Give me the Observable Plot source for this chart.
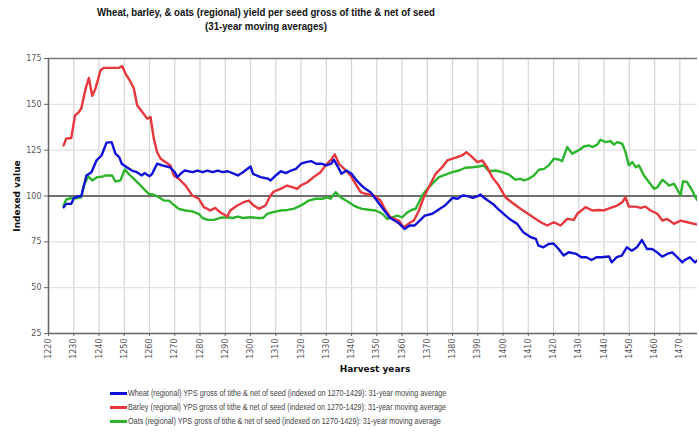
<!DOCTYPE html>
<html>
<head>
<meta charset="utf-8">
<script src="https://cdn.jsdelivr.net/npm/d3@7"></script>
<script src="https://cdn.jsdelivr.net/npm/@observablehq/plot@0.6"></script>
<style>
  html, body { margin: 0; padding: 0; background: #fff; }
  #wrap { position: relative; width: 699px; height: 432px; overflow: hidden; background: #fff; }
  #chart { position: absolute; left: 0; top: 0; }
  .title { position: absolute; left: 16px; width: 500px; text-align: center; font-family: "Liberation Sans", Arial, sans-serif; font-weight: bold; font-size: 10.5px; color: #111; line-height: 14px; transform: scaleX(0.92); transform-origin: 250px 0; }
  .axlabel { position: absolute; font-family: "DejaVu Sans", sans-serif; font-weight: bold; font-size: 9px; color: #111; white-space: nowrap; }
  #legend { position: absolute; left: 110px; top: 386px; font-family: "Liberation Sans", sans-serif; font-size: 8.5px; color: #444; }
  .row { display: flex; align-items: center; height: 14px; white-space: nowrap; }
  .sw { width: 17px; height: 3px; margin-right: 1px; flex: none; }
  .lt { display: inline-block; transform: scaleX(0.85); transform-origin: 0 50%; }
</style>
</head>
<body>
<div id="wrap">
  <div id="chart"></div>
  <div class="title" style="top:5px">Wheat, barley, &amp; oats (regional) yield per seed gross of tithe &amp; net of seed<br>(31-year moving averages)</div>
  <div class="axlabel" id="ylab" style="left:17px; top:196px; transform: translate(-50%,-50%) rotate(-90deg);">Indexed value</div>
  <div class="axlabel" id="xlab" style="left:375px; top:369px; transform: translate(-50%,-50%);">Harvest years</div>
  <div id="legend"></div>
</div>
<script>
// ---- Data ----
const seriesNames = [
  "Wheat (regional) YPS gross of tithe & net of seed (indexed on 1270-1429): 31-year moving average",
  "Barley (regional) YPS gross of tithe & net of seed (indexed on 1270-1429): 31-year moving average",
  "Oats (regional) YPS gross of tithe & net of seed (indexed on 1270-1429): 31-year moving average"
];
const seriesColors = ["#1010d8", "#e8373c", "#2cb52c"];

const xTicks = [1220,1230,1240,1250,1260,1270,1280,1290,1300,1310,1320,1330,1340,1350,1360,1370,1380,1390,1400,1410,1420,1430,1440,1450,1460,1470];
const yTicks = [25, 50, 75, 100, 125, 150, 175];

const wheatYears = [1226,1227,1229,1230,1232,1233,1235,1237,1239,1241,1243,1245,1246.5,1248,1249,1251,1253,1255,1257,1258,1260,1261,1263,1265,1268,1270,1271,1273,1274,1277,1279,1281,1283,1285,1287,1289,1291,1295,1297,1300,1301,1304,1307,1308,1310,1312,1314,1316,1318,1320,1322,1324,1326,1328,1330,1332,1333,1335,1336,1338,1340,1342,1344,1345.5,1347.5,1349.5,1352,1355,1357,1359,1361,1363,1365,1367,1369,1372,1375,1377,1380,1382,1384,1386,1388,1390,1391,1393,1396,1398,1401,1403,1405.6,1408,1411,1413,1414,1416,1418,1420,1422,1424,1426,1429,1431,1433,1435,1437,1439,1442,1443,1445,1447,1449,1451,1453,1455,1457,1459,1461,1463,1465,1467,1469,1471,1472,1474,1476,1477.5];
const wheatValues = [93.9,95.7,95.7,98.8,99.9,100,111.2,113,119.4,122.1,129.1,129.4,123.1,121.2,117.6,115.7,113.9,113,111.2,112.5,110.8,112,117.6,116.7,115.7,113,110.3,113,113.9,113,113.9,113,113.9,113,113.9,113,113.5,111.2,113,116.1,112.1,110.3,109.4,108.5,111.2,113.5,112.5,113.9,114.8,117.6,118.5,119,117.6,117.6,116.7,117.6,119.8,114.9,112.1,113.9,112.1,108.5,105.7,103.9,102.1,98.5,93.9,88.4,86.6,84.8,82,83.9,83.9,86.6,89.3,90.3,93,94.8,99,98.5,100.3,99.9,99,99.9,100.8,98.5,95.7,93,89.3,87,84.8,80.2,77.5,76.6,72.9,72,73.8,74.1,71.1,67.5,69.3,68.4,66.6,66.6,65.1,66.6,66.6,67,63.8,66.6,67.5,72,70.2,72,76,71.1,71.1,69.3,66.9,68.4,69.3,66.6,63.8,65.1,66.6,63.8,65.6];

const barleyYears = [1226,1227,1229,1230.5,1232,1233,1234.7,1236,1237.3,1238.6,1240.6,1242,1246,1247.8,1249.2,1250.5,1252.5,1253.8,1255.1,1257.1,1259.1,1260.4,1261.7,1263,1264.4,1266.3,1268.3,1269.6,1271.6,1274.3,1276.9,1279.5,1281.5,1282.5,1284,1286,1288,1290.8,1292,1294.7,1297.3,1299.3,1301.3,1303.3,1305.9,1307.9,1309.2,1311.9,1314.5,1316.5,1318.5,1319.8,1322.5,1325,1327.7,1329.7,1331.7,1333.4,1335,1337,1339.6,1342,1343.6,1345.5,1348.8,1351.5,1353.5,1355.4,1358.7,1360.7,1362.7,1364.7,1366.7,1368.6,1370.6,1373.3,1375.9,1377.9,1381.2,1383.8,1385.5,1387.8,1389.8,1391.8,1393.7,1395.7,1398.3,1401,1403,1406.9,1410.9,1414.9,1417.5,1420.1,1422.8,1425.4,1428,1429.4,1432.7,1435.3,1438,1439.9,1442.6,1445.2,1447.2,1448.5,1449.8,1452.5,1454.5,1456.4,1458.4,1461.1,1463.1,1465,1467.7,1470.3,1473,1477];
const barleyValues = [127.6,131.3,131.6,144,145.8,147.7,158.6,164.4,154.6,158.6,168.6,169.9,169.9,169.9,170.8,166.8,162.2,158.6,149.5,145.8,142.2,143.1,131.3,124,120.3,118.5,116.7,111.2,109.4,105.7,100.3,98.5,93.9,93.3,92.1,93.5,91.1,88.8,92.1,94.8,96.6,97.5,94.8,93,94.8,100.3,102.4,103.9,105.7,104.8,103.9,105.7,107.5,110.3,113,116.7,119.4,122.7,117.6,114.9,111.2,105.7,102.1,101.2,100.3,97.5,92.1,88.4,86.6,82.9,85.1,86.6,92.1,99.3,104.8,112.1,115.7,119.4,120.9,122.1,123.9,121.2,118.5,119.4,115.7,110.3,105.7,99.3,97,93,89.3,85.7,83.9,85.7,83.9,87.5,87,90.3,93.9,92.1,92.4,92.1,93.5,94.8,96.6,99.3,94.2,94.2,93.5,94.2,92.1,90.3,86.6,87.5,84.8,86.6,85.7,84.4];

const oatsYears = [1226,1227,1229,1231,1233,1234,1235.7,1237.3,1239.3,1241.3,1242.6,1245.2,1246.5,1248.5,1250.2,1251.8,1253.8,1255.8,1257.7,1259.7,1261.7,1263.7,1265.7,1267.7,1269.6,1271.6,1274.3,1276.9,1279.5,1281,1283,1285.5,1288,1291,1293,1295,1297,1300,1303,1305,1306.6,1308.6,1311.9,1314.5,1317,1319,1321,1323,1325.8,1328.4,1330.4,1331.7,1333.7,1335.6,1338.3,1340.9,1343,1344.2,1346.9,1349.5,1352.2,1354.1,1356.1,1358.1,1360.1,1362.1,1364,1365.4,1366.7,1368,1370,1372,1374.6,1377.2,1379.9,1382.5,1385.1,1387.8,1390.4,1392.4,1394.4,1397,1399.6,1402.3,1404.9,1406.9,1408.2,1410.2,1412.2,1414.2,1416.2,1418.1,1420.1,1422.1,1423.4,1425.4,1427.4,1430,1432,1434,1435.3,1437.3,1438.6,1440.6,1442.6,1443.9,1445.2,1447.2,1448.5,1449.8,1451.2,1452.5,1453.8,1455.8,1457.8,1459.8,1461.1,1463.1,1464.4,1465.7,1467.7,1470.3,1471.3,1472.9,1474.9,1476.2,1477.8];
const oatsValues = [94.8,98.1,98.8,98.8,99.3,105.7,110.8,108.5,110.3,110.5,111.2,111.2,107.9,108.5,114.5,112,109.4,106.7,103.9,101.2,100.7,99.3,97.5,97.5,95.2,93,92.1,91.6,90.3,88,87,87,88.1,88.4,88,88.8,88,88.4,88,88,90.3,91.1,92.1,92.4,93,94.2,95.7,97.5,98.5,98.5,99.3,98.5,102.1,99.3,97.1,94.8,93.5,93,92.5,92.1,90.3,87.5,88.4,89.3,88.4,91.1,92.5,93,96.6,100.3,103.9,106.7,110.3,111.7,113,113.9,115.4,115.7,116.1,116.7,113.5,113.9,113,111.7,108.9,109.4,108.5,109.4,111.2,114.3,114.8,116.7,120.3,119.9,119,126.7,123.1,125,127,127.6,126.7,128,130.7,129.4,129.9,128,129.4,128.5,123.9,116.7,118.5,115.7,116.7,111.2,107.5,103.9,104.8,108.8,107.5,105.7,106.7,100.3,108.1,107.5,103,99.3,96];

const toRows = (years, values) => years.map((year, i) => ({year, value: values[i]}));
const wheat = toRows(wheatYears, wheatValues);
const barley = toRows(barleyYears, barleyValues);
const oats = toRows(oatsYears, oatsValues);

const chart = Plot.plot({
  width: 699,
  height: 432,
  marginLeft: 48,
  marginRight: 2,
  marginTop: 58,
  marginBottom: 99,
  style: { fontFamily: "DejaVu Sans, sans-serif", fontSize: "8px", color: "#555", background: "#fff", overflow: "visible" },
  x: { domain: [1220, 1477], label: null },
  y: { domain: [25, 175], label: null },
  marks: [
    Plot.gridX(xTicks, { stroke: "#d4d4d4", strokeOpacity: 1, strokeWidth: 1.2 }),
    Plot.gridY(yTicks, { stroke: "#e2e2e2", strokeOpacity: 1, strokeWidth: 1.2 }),
    Plot.ruleY([175], { stroke: "#777", strokeWidth: 1.5 }),
    Plot.ruleY([25], { stroke: "#666", strokeWidth: 1.5 }),
    Plot.ruleX([1220], { stroke: "#666", strokeWidth: 1.5 }),
    Plot.axisX({ ticks: xTicks, tickFormat: d => String(d), tickRotate: -90, tickSize: 3, tickPadding: 2, stroke: "#666", fill: "#555", label: null }),
    Plot.axisY({ ticks: yTicks, tickSize: 4, tickPadding: 3, stroke: "#666", fill: "#555", label: null }),
    Plot.ruleY([100], { stroke: "#444", strokeWidth: 1.5 }),
    Plot.line(oats, { x: "year", y: "value", stroke: seriesColors[2], strokeWidth: 2.4, clip: true }),
    Plot.line(barley, { x: "year", y: "value", stroke: seriesColors[1], strokeWidth: 2.4, clip: true }),
    Plot.line(wheat, { x: "year", y: "value", stroke: seriesColors[0], strokeWidth: 2.4, clip: true })
  ]
});
document.getElementById("chart").appendChild(chart);

const legend = document.getElementById("legend");
seriesNames.forEach((name, i) => {
  const row = document.createElement("div");
  row.className = "row";
  const sw = document.createElement("div");
  sw.className = "sw";
  sw.style.background = seriesColors[i];
  const t = document.createElement("span");
  t.className = "lt";
  t.textContent = name;
  row.appendChild(sw);
  row.appendChild(t);
  legend.appendChild(row);
});
</script>
</body>
</html>
